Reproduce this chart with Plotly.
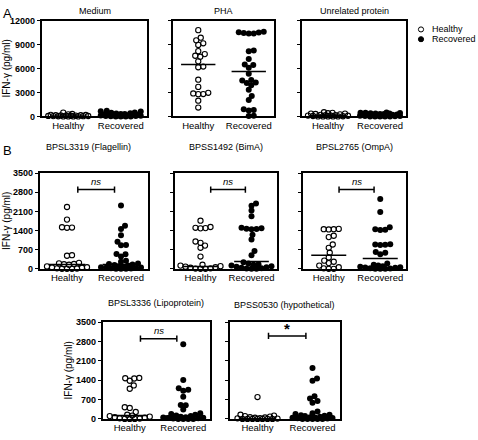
import numpy as np
import plotly.graph_objects as go

W, H = 478, 440
FONT = "Liberation Sans"

categories = ["Healthy", "Recovered"]
panel_titles = ["Medium", "PHA", "Unrelated protein",
                "BPSL3319 (Flagellin)", "BPSS1492 (BimA)", "BPSL2765 (OmpA)",
                "BPSL3336 (Lipoprotein)", "BPSS0530 (hypothetical)"]

# ---- data (IFN-gamma pg/ml) ----
medium_healthy = [0, 0, 0, 0, 20, 30, 40, 50, 60, 80, 100, 100, 120, 150, 150, 180, 200, 250, 300, 480]
medium_recovered = [0, 0, 0, 0, 20, 40, 60, 80, 100, 120, 150, 180, 200, 200, 250, 300, 300, 350, 400,
                    450, 500, 600, 650, 700, 150, 100]
pha_healthy = [10810, 9860, 9530, 9160, 8960, 8180, 7810, 7600, 7480, 6900, 6250, 6160, 4600, 3700,
               2960, 2880, 2800, 2790, 1970, 1110]
pha_recovered = [10500, 10400, 10550, 10600, 10450, 10400, 8250, 8150, 7200, 6500, 6450, 6100, 5350,
                 4550, 4500, 4250, 4200, 3900, 3350, 2550, 2050, 900, 800, 750, 80, 60]
unrel_healthy = [0, 0, 0, 0, 0, 20, 50, 80, 100, 120, 150, 200, 250, 300, 350, 400, 450, 520, 350, 150]
unrel_recovered = [0, 0, 0, 0, 20, 50, 80, 100, 150, 200, 250, 300, 350, 400, 450, 500, 420, 300, 250,
                   200, 150, 100, 50, 0, 380, 460]
flag_healthy = [2260, 1800, 1520, 1510, 1500, 500, 480, 220, 200, 180, 170, 150, 90, 60, 50, 40, 20, 10, 0, 0, 0]
flag_recovered = [2320, 1580, 1460, 1230, 990, 870, 860, 540, 530, 450, 300, 260, 200, 180, 160, 140, 120,
                  100, 80, 60, 50, 40, 30, 20, 10, 0, 0, 0]
bima_healthy = [1760, 1530, 1500, 1480, 1490, 1000, 950, 850, 770, 450, 150, 120, 100, 80, 60, 40, 20, 10, 0, 0]
bima_recovered = [2390, 2310, 2130, 1920, 1500, 1480, 1470, 1460, 1450, 1245, 1070, 650, 500, 240, 200,
                  170, 150, 120, 100, 80, 60, 40, 20, 10, 0, 0]
ompa_healthy = [1460, 1450, 1450, 1440, 1210, 1160, 890, 770, 590, 415, 300, 260, 210, 120, 60, 20, 0, 0]
ompa_recovered = [2550, 2075, 1520, 1450, 1430, 1420, 900, 890, 880, 870, 620, 590, 530, 200, 150, 120,
                  100, 80, 60, 50, 40, 20, 10, 0, 0, 0]
lipo_healthy = [1480, 1470, 1460, 1380, 1210, 1090, 420, 395, 250, 150, 120, 100, 80, 60, 40, 20, 10, 0, 0, 0]
lipo_recovered = [2700, 1410, 1110, 1050, 1015, 800, 500, 490, 335, 200, 180, 150, 120, 100, 80, 60, 50,
                  40, 30, 20, 10, 0, 0, 0, 0]
hypo_healthy = [790, 150, 120, 100, 80, 60, 50, 40, 30, 20, 10, 0, 0, 0, 0, 0, 0, 0]
hypo_recovered = [1840, 1460, 1380, 820, 735, 650, 580, 270, 200, 180, 150, 130, 110, 100, 80, 60, 50,
                  40, 30, 20, 10, 0, 0, 0, 0, 0]

healthy_sets = [medium_healthy, pha_healthy, unrel_healthy, flag_healthy, bima_healthy, ompa_healthy,
                lipo_healthy, hypo_healthy]
recovered_sets = [medium_recovered, pha_recovered, unrel_recovered, flag_recovered, bima_recovered,
                  ompa_recovered, lipo_recovered, hypo_recovered]
median_healthy = [60, 6500, 100, 155, 83, 500, 120, 10]
median_recovered = [200, 5630, 200, 155, 270, 380, 100, 50]

sig_labels = [None, None, None, "ns", "ns", "ns", "ns", "*"]
sig_levels = [None, None, None, 2900, 2900, 2900, 2900, 3000]

ticks_a = [0, 3000, 6000, 9000, 12000]
ticks_a_text = ["0", "3000", "6000", "9000", "12000"]
ticks_b = [0, 700, 1400, 2100, 2800, 3500]
ticks_b_text = ["0", "700", "1400", "2100", "2800", "3500"]

# ---- layout config (pixel boxes: left, right, top, bottom) ----
boxes = [(42, 147, 16, 114), (173, 274, 16, 114), (302, 406, 16, 114),
         (40, 148, 172, 270), (175, 277, 172, 270), (303, 406, 172, 270),
         (103, 210, 324.5, 423.5), (230, 340, 324.5, 423.5)]
ymax = [12000] * 3 + [3500] * 5
show_labels = [True, False, False, True, False, False, True, False]
title_x = [94.5, 223.5, 354, 88, 226, 354.5, 156, 284]
title_y = [6, 6, 6, 145, 145, 145, 305, 307]

XR = (-0.5, 1.5)
HALF = 0.34


def swarm(vals, ppx, ppy, d=5.0, maxw=20.0):
    vals = np.asarray(vals, float)
    order = np.argsort(vals, kind="stable")
    placed = []
    off = np.zeros(len(vals))
    cands = [0.0]
    k = 1
    while k * 0.5 <= maxw:
        cands += [k * 0.5, -k * 0.5]
        k += 1
    for i in order:
        y = vals[i] * ppy
        best, bestd = 0.0, -1
        for c in cands:
            if placed:
                md = min(np.hypot(c - px, y - py) for px, py in placed)
            else:
                md = 1e9
            if md >= d:
                best = c
                break
            if md > bestd + 0.3:
                best, bestd = c, md
        placed.append((best, y))
        off[i] = best / ppx
    return off


fig = go.Figure()
shapes = []
annotations = []

for p in range(8):
    l, r, t, b = boxes[p]
    n = "" if p == 0 else str(p + 1)
    xa, ya = "x" + n, "y" + n
    ppx = (r - l) / (XR[1] - XR[0])
    ppy = (b - t) / ymax[p]
    for gi, (vals, med) in enumerate([(healthy_sets[p], median_healthy[p]),
                                      (recovered_sets[p], median_recovered[p])]):
        off = swarm(vals, ppx, ppy)
        xs = gi + off
        if gi == 0:
            marker = dict(symbol="circle-open", size=5.2, color="black", line=dict(width=1.1, color="black"))
        else:
            marker = dict(symbol="circle", size=6, color="black")
        fig.add_trace(go.Scatter(x=xs, y=vals, mode="markers", marker=marker, xaxis=xa, yaxis=ya,
                                 cliponaxis=False, showlegend=False, hoverinfo="y"))
        fig.add_trace(go.Scatter(x=[gi - HALF, gi + HALF], y=[med, med], mode="lines",
                                 line=dict(color="black", width=1.5), xaxis=xa, yaxis=ya,
                                 cliponaxis=False, showlegend=False, hoverinfo="skip"))
    dom_x = [l / W, r / W]
    dom_y = [1 - b / H, 1 - t / H]
    if ymax[p] == 12000:
        tv, tt = ticks_a, ticks_a_text
    else:
        tv, tt = ticks_b, ticks_b_text
    fig.layout["xaxis" + n] = dict(domain=dom_x, range=list(XR), tickvals=[0, 1], ticktext=categories,
                                   showline=True, mirror=True, linecolor="black", linewidth=1.5,
                                   ticks="", showgrid=False, zeroline=False, anchor=ya,
                                   ticklabelstandoff=-1,
                                   tickfont=dict(family=FONT, size=9.5, color="black"), fixedrange=True)
    fig.layout["yaxis" + n] = dict(domain=dom_y, range=[0, ymax[p]], tickvals=tv, ticktext=tt,
                                   showticklabels=show_labels[p], showline=True, mirror=True,
                                   linecolor="black", linewidth=1.5, ticks="outside", ticklen=3.5,
                                   tickwidth=1.2, tickcolor="black", showgrid=False, zeroline=False,
                                   anchor=xa, tickfont=dict(family=FONT, size=9, color="black", weight="bold"))
    annotations.append(dict(text=panel_titles[p], x=title_x[p] / W, y=1 - title_y[p] / H, xref="paper",
                            yref="paper", showarrow=False, xanchor="center", yanchor="middle",
                            font=dict(family=FONT, size=9, color="black")))
    if sig_labels[p]:
        yv = sig_levels[p]
        cap = 3.2 / ppy
        x0, x1 = 0.2, 0.88
        shapes.append(dict(type="line", xref=xa, yref=ya, x0=x0, x1=x1, y0=yv, y1=yv,
                           line=dict(color="black", width=1.5)))
        for xx in (x0, x1):
            shapes.append(dict(type="line", xref=xa, yref=ya, x0=xx, x1=xx, y0=yv - cap, y1=yv + cap,
                               line=dict(color="black", width=1.5)))
        if sig_labels[p] == "ns":
            annotations.append(dict(text="<i>ns</i>", x=(x0 + x1) / 2, y=yv, xref=xa, yref=ya,
                                    showarrow=False, yanchor="bottom", yshift=1,
                                    font=dict(family=FONT, size=9.5, color="black")))
        else:
            annotations.append(dict(text="<b>*</b>", x=(x0 + x1) / 2, y=yv, xref=xa, yref=ya,
                                    showarrow=False, yanchor="bottom", yshift=-3,
                                    font=dict(family=FONT, size=15, color="black")))

# y-axis titles
for (xp, yp) in [(7, 65), (7, 221), (68, 374)]:
    annotations.append(dict(text="IFN-\u03b3 (pg/ml)", x=xp / W, y=1 - yp / H, xref="paper", yref="paper",
                            showarrow=False, textangle=-90, xanchor="center", yanchor="middle",
                            font=dict(family=FONT, size=10, color="black")))
# panel letters
for lab, (xp, yp) in [("A", (7, 9)), ("B", (7, 149))]:
    annotations.append(dict(text=lab, x=xp / W, y=1 - yp / H, xref="paper", yref="paper",
                            showarrow=False, xanchor="center", yanchor="middle",
                            font=dict(family=FONT, size=13, color="black")))
# legend
for i, (lab, yp) in enumerate([("Healthy", 25), ("Recovered", 35)]):
    cx, rr = 421, 2.6
    shapes.append(dict(type="circle", xref="paper", yref="paper", x0=(cx - rr) / W, x1=(cx + rr) / W,
                       y0=1 - (yp + rr) / H, y1=1 - (yp - rr) / H,
                       line=dict(color="black", width=1), fillcolor="white" if i == 0 else "black"))
    annotations.append(dict(text=lab, x=430 / W, y=1 - yp / H, xref="paper", yref="paper",
                            showarrow=False, xanchor="left", yanchor="middle",
                            font=dict(family=FONT, size=9, color="black")))

fig.update_layout(width=W, height=H, margin=dict(l=0, r=0, t=0, b=0), plot_bgcolor="white",
                  paper_bgcolor="white", shapes=shapes, annotations=annotations, showlegend=False,
                  font=dict(family=FONT, color="black"))
fig.write_html("out.html", config={"displayModeBar": False},
               post_script="document.body.style.margin='0';document.body.style.overflow='hidden';")
